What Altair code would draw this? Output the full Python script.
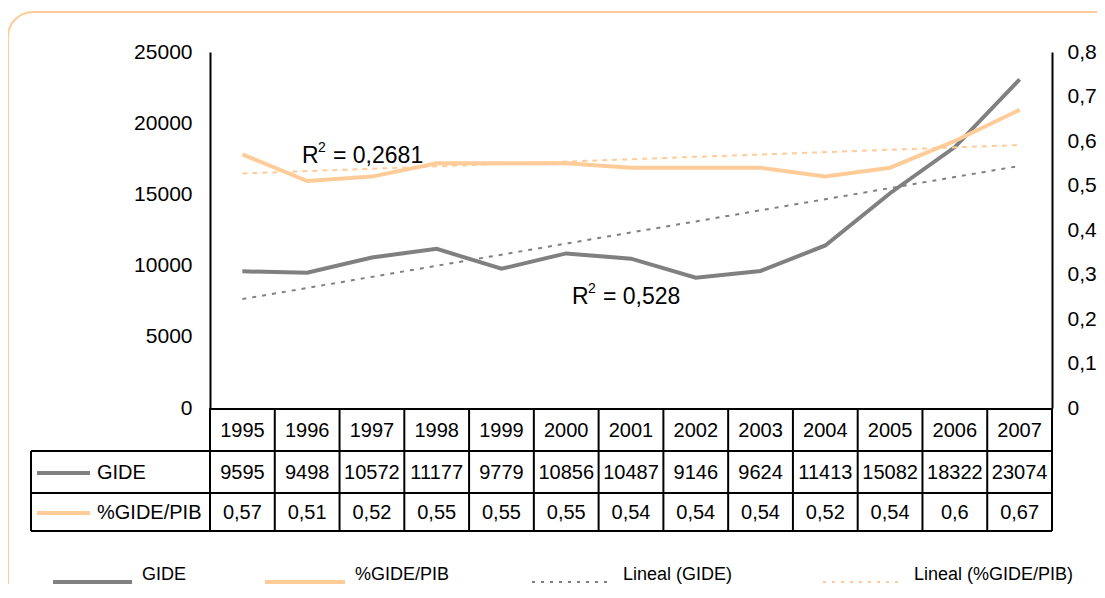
import altair as alt
import pandas as pd

# ---------------- data ----------------
years = [1995, 1996, 1997, 1998, 1999, 2000, 2001, 2002, 2003, 2004, 2005, 2006, 2007]
gide = [9595, 9498, 10572, 11177, 9779, 10856, 10487, 9146, 9624, 11413, 15082, 18322, 23074]
pct_gide_pib = [0.57, 0.51, 0.52, 0.55, 0.55, 0.55, 0.54, 0.54, 0.54, 0.52, 0.54, 0.6, 0.67]

trend_years = [1995, 2007]
trend_gide = [7650, 17000]        # linear trend (GIDE)
trend_pct = [0.527, 0.591]        # linear trend (%GIDE/PIB)

gide_ticks = [0, 5000, 10000, 15000, 20000, 25000]
pct_ticks = [0, 0.1, 0.2, 0.3, 0.4, 0.5, 0.6, 0.7, 0.8]

series_names = ["GIDE", "%GIDE/PIB", "Lineal (GIDE)", "Lineal (%GIDE/PIB)"]
r2_gide = "0,528"
r2_pct = "0,2681"

# ---------------- style / layout ----------------
GRAY = "#808080"
ORANGE = "#FFCC99"
FONT = "Liberation Sans, Arial, sans-serif"
W, H = 842, 356

main = pd.DataFrame({
    "year": years,
    "gide": gide,
    "pct": pct_gide_pib,
    "year_lbl": [str(y) for y in years],
    "gide_lbl": [str(v) for v in gide],
    "pct_lbl": [str(v).replace(".", ",") for v in pct_gide_pib],
})
trend = pd.DataFrame({"year": trend_years, "gide": trend_gide, "pct": trend_pct})
seps = pd.DataFrame({"sep": [y + 0.5 for y in years[:-1]]})
one = pd.DataFrame({"k": [0]})

x_scale = alt.Scale(domain=[years[0] - 0.5, years[-1] + 0.5], nice=False, zero=False)
x_enc = alt.X("year:Q", scale=x_scale, axis=None)

y_left = alt.Y(
    "gide:Q",
    scale=alt.Scale(domain=[0, 25000], nice=False),
    axis=alt.Axis(values=gide_ticks, format="d", orient="left", ticks=False, tickSize=0, grid=False,
                  domainColor="black", domainWidth=2, labelFontSize=21, labelFont=FONT,
                  labelColor="black", labelPadding=18, title=None),
)
y_right = alt.Y(
    "pct:Q",
    scale=alt.Scale(domain=[0, 0.8], nice=False),
    axis=alt.Axis(values=pct_ticks, orient="right", ticks=False, tickSize=0, grid=False,
                  domainColor="black", domainWidth=2, labelFontSize=21, labelFont=FONT,
                  labelColor="black", labelPadding=15, title=None,
                  labelExpr="datum.value == 0 ? '0' : replace(format(datum.value, '.1f'), '.', ',')"),
)

gide_line = alt.Chart(main).mark_line(color=GRAY, strokeWidth=4).encode(x=x_enc, y=y_left)
gide_trend = alt.Chart(trend).mark_line(color=GRAY, strokeWidth=2, strokeDash=[4, 6]).encode(x=x_enc, y=y_left)
left = alt.layer(gide_line, gide_trend)

pct_line = alt.Chart(main).mark_line(color=ORANGE, strokeWidth=4).encode(x=x_enc, y=y_right)
pct_trend = alt.Chart(trend).mark_line(color=ORANGE, strokeWidth=2, strokeDash=[5, 5]).encode(x=x_enc, y=y_right)
right = alt.layer(pct_line, pct_trend)

deco = []

# outer rounded border
deco.append(alt.Chart(one).mark_rect(fillOpacity=0, stroke=ORANGE, strokeWidth=2, cornerRadius=25).encode(
    x=alt.value(-202), x2=alt.value(1000), y=alt.value(-40), y2=alt.value(700)))

# table grid
ROW_Y = [357, 399, 441, 479]
for i, yy in enumerate(ROW_Y):
    x0 = 0 if i == 0 else -179
    deco.append(alt.Chart(one).mark_rule(color="black", strokeWidth=2).encode(
        x=alt.value(x0), x2=alt.value(W), y=alt.value(yy)))
deco.append(alt.Chart(one).mark_rule(color="black", strokeWidth=2).encode(
    x=alt.value(-179), y=alt.value(399), y2=alt.value(479)))
deco.append(alt.Chart(one).mark_rule(color="black", strokeWidth=2).encode(
    x=alt.value(0), y=alt.value(H), y2=alt.value(479)))
deco.append(alt.Chart(one).mark_rule(color="black", strokeWidth=2).encode(
    x=alt.value(W), y=alt.value(H), y2=alt.value(479)))
deco.append(alt.Chart(seps).mark_rule(color="black", strokeWidth=2).encode(
    x=alt.X("sep:Q", scale=x_scale, axis=None),
    y=alt.value(357), y2=alt.value(479)))

# table texts
for col, yy in [("year_lbl", 379), ("gide_lbl", 421), ("pct_lbl", 461)]:
    deco.append(alt.Chart(main).mark_text(fontSize=20, font=FONT, color="black", baseline="middle").encode(
        x=x_enc, y=alt.value(yy), text=f"{col}:N"))

# row headers with legend keys
deco.append(alt.Chart(one).mark_rule(color=GRAY, strokeWidth=4).encode(
    x=alt.value(-173), x2=alt.value(-120), y=alt.value(421)))
deco.append(alt.Chart(one).mark_rule(color=ORANGE, strokeWidth=4).encode(
    x=alt.value(-173), x2=alt.value(-120), y=alt.value(461)))
deco.append(alt.Chart(one).mark_text(fontSize=20, font=FONT, color="black", align="left", baseline="middle",
                                     text=series_names[0]).encode(x=alt.value(-113), y=alt.value(421)))
deco.append(alt.Chart(one).mark_text(fontSize=20, font=FONT, color="black", align="left", baseline="middle",
                                     text=series_names[1]).encode(x=alt.value(-113), y=alt.value(461)))

# bottom legend
LEG_Y = 530
legend_items = [
    (series_names[0], GRAY, 4, None, -157, -78, -68),
    (series_names[1], ORANGE, 4, None, 55, 135, 145),
    (series_names[2], GRAY, 2, [3, 6], 322, 398, 413),
    (series_names[3], ORANGE, 2, [3, 6], 613, 690, 704),
]
for name, colr, sw, dash, xa, xb, xt in legend_items:
    kw = dict(color=colr, strokeWidth=sw)
    if dash:
        kw["strokeDash"] = dash
    deco.append(alt.Chart(one).mark_rule(**kw).encode(x=alt.value(xa), x2=alt.value(xb), y=alt.value(LEG_Y)))
    deco.append(alt.Chart(one).mark_text(fontSize=18, font=FONT, color="black", align="left",
                                         baseline="alphabetic", text=name).encode(
        x=alt.value(xt), y=alt.value(LEG_Y - 2)))

# R² annotations
def r2(xr, ybase, val):
    out = []
    out.append(alt.Chart(one).mark_text(fontSize=23, font=FONT, color="black", align="left",
                                        baseline="alphabetic", text="R").encode(x=alt.value(xr), y=alt.value(ybase)))
    out.append(alt.Chart(one).mark_text(fontSize=14, font=FONT, color="black", align="left",
                                        baseline="alphabetic", text="2").encode(x=alt.value(xr + 16), y=alt.value(ybase - 11)))
    out.append(alt.Chart(one).mark_text(fontSize=23, font=FONT, color="black", align="left",
                                        baseline="alphabetic", text="= " + val).encode(x=alt.value(xr + 31), y=alt.value(ybase)))
    return out

deco += r2(92, 111, r2_pct)
deco += r2(362, 252, r2_gide)

chart = alt.layer(left, right, *deco).resolve_scale(y="independent").properties(
    width=W, height=H,
    autosize=alt.AutoSizeParams(type="none"),
    padding={"left": 202, "top": 44, "right": 45, "bottom": 176},
    background="white",
).configure_view(strokeWidth=0)

chart.save("out.html", embed_options={"renderer": "svg", "actions": False})
